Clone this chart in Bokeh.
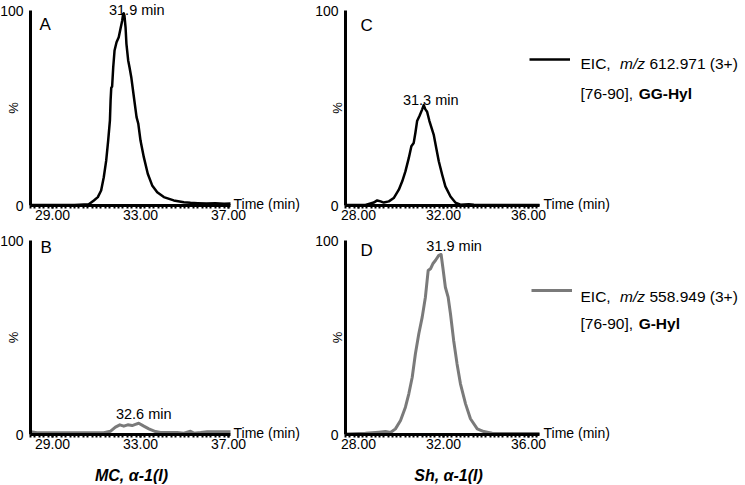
import math
import numpy as np
from bokeh.plotting import figure
from bokeh.models import (Range1d, FixedTicker, Label, Legend, LegendItem,
                          PrintfTickFormatter, LinearAxis)
from bokeh.embed import file_html
from bokeh.resources import INLINE

FONT = "Liberation Sans"

# ---------------- data ----------------
# Panel A : MC, EIC m/z 612.971 (GG-Hyl)
a_time = [28.0, 29.0, 30.0, 30.65, 30.88, 31.06, 31.21, 31.33, 31.44, 31.53, 31.61, 31.64,
          31.67, 31.71, 31.76, 31.82, 31.91, 32.01, 32.09, 32.17, 32.21, 32.24, 32.27, 32.32,
          32.36, 32.44, 32.50, 32.58, 32.70, 32.82, 32.90, 33.00, 33.15, 33.33, 33.53, 33.76,
          34.06, 34.51, 34.97, 35.27, 35.6, 36.0, 36.4, 36.8, 37.09]
a_int = [0.3, 0.3, 0.3, 0.6, 2.6, 4.3, 7.7, 14.5, 23.0, 33.3, 43.6, 53.8,
         60.3, 61.0, 70.9, 79.5, 83.7, 86.3, 90.6, 94.9, 98.3, 98.6, 97.4, 91.4,
         82.9, 74.4, 70.9, 65.8, 55.5, 45.3, 41.9, 33.3, 24.8, 16.3, 10.3, 6.8,
         4.3, 2.6, 1.7, 1.4, 1.2, 1.0, 1.2, 0.9, 1.0]
# Panel B : MC, EIC m/z 558.949 (G-Hyl)
b_time = [28.0, 28.3, 29.06, 30.0, 31.33, 31.64, 31.86, 32.06, 32.24, 32.42, 32.62, 32.77,
          32.92, 33.15, 33.38, 33.68, 33.91, 34.67, 34.97, 35.12, 35.27, 35.42, 35.73, 36.03,
          36.5, 37.09]
b_int = [1.4, 0.9, 0.9, 0.9, 0.9, 1.7, 3.8, 5.0, 4.3, 5.0, 4.6, 5.2,
         5.8, 4.3, 2.9, 1.5, 1.0, 1.0, 0.7, 1.2, 1.7, 0.7, 1.0, 1.4,
         1.4, 1.4]
# Panel C : Sh, EIC m/z 612.971 (GG-Hyl)
c_time = [27.39, 28.0, 28.33, 28.72, 28.88, 29.04, 29.19, 29.43, 29.66, 29.90, 30.06, 30.21,
          30.37, 30.49, 30.60, 30.68, 30.76, 30.87, 31.00, 31.07, 31.15, 31.23, 31.34, 31.44,
          31.54, 31.66, 31.78, 31.94, 32.09, 32.33, 32.56, 32.80, 33.19, 33.43, 34.0, 35.0,
          36.52]
c_int = [0.2, 0.2, 0.3, 1.5, 2.6, 2.1, 1.5, 2.1, 3.8, 8.1, 12.4, 17.5,
         24.4, 30.4, 32.1, 37.3, 43.3, 45.9, 49.3, 51.5, 49.3, 48.1, 43.3, 39.8,
         36.4, 29.5, 22.7, 15.8, 9.8, 4.6, 1.5, 0.4, 0.7, 0.4, 0.3, 0.3,
         0.3]
# Panel D : Sh, EIC m/z 558.949 (G-Hyl)
d_time = [27.39, 28.33, 28.96, 29.27, 29.51, 29.74, 29.98, 30.21, 30.37, 30.53, 30.68, 30.84,
          31.00, 31.15, 31.28, 31.39, 31.50, 31.62, 31.78, 31.89, 31.97, 32.09, 32.22, 32.33,
          32.48, 32.64, 32.80, 33.04, 33.27, 33.59, 33.90, 34.29, 35.0, 36.52]
d_int = [0.3, 0.7, 1.2, 1.5, 1.0, 2.9, 7.2, 14.1, 21.0, 29.5, 41.6, 51.9,
         60.5, 70.8, 84.5, 85.4, 88.0, 89.7, 92.3, 92.8, 86.2, 75.9, 70.8, 62.2,
         48.5, 36.4, 26.1, 15.8, 8.1, 2.9, 1.5, 0.7, 0.5, 0.5]

peak_labels = {"A": "31.9 min", "B": "32.6 min", "C": "31.3 min", "D": "31.9 min"}
ticks_left = [29, 33, 37]
ticks_right = [28, 32, 36]
y_ticks = [0, 100]
range_left = (28.0, 37.09)
range_right = (27.39, 36.52)
y_span = (0, 100)
sample_labels = ["MC, \u03b1-1(I)", "Sh, \u03b1-1(I)"]
legend_line1 = ["EIC,", "m/z", ["612.971 (3+)", "558.949 (3+)"]]
legend_line2_plain = "[76-90],"
legend_line2_bold = ["GG-Hyl", "G-Hyl"]

BLACK = "#000000"
GREY = "#7a7a7a"

# ---------------- canvas geometry (pixels) ----------------
W, H = 744, 484

p = figure(width=W, height=H, x_range=Range1d(0, W), y_range=Range1d(0, H),
           x_axis_location=None, y_axis_location=None, title=None,
           toolbar_location=None, output_backend="svg", min_border=0)
p.outline_line_color = None
p.grid.visible = False
p.background_fill_color = "white"
p.border_fill_color = "white"

# panel plot areas on the canvas: (left, right, top, bottom)
boxes = {
    "A": (30, 230, 10, 205),
    "C": (345, 539, 10, 205),
    "B": (30, 230, 240, 434),
    "D": (345, 539, 240, 434),
}
xr_of = {"A": range_left, "B": range_left, "C": range_right, "D": range_right}

ex, ey = {}, {}
for k, (L, R, T, B) in boxes.items():
    x0, x1 = xr_of[k]
    sx = (R - L) / (x1 - x0)
    ex[k] = Range1d(x0 - L / sx, x1 + (W - R) / sx)
    sy = (B - T) / (y_span[1] - y_span[0])
    ey[k] = Range1d(y_span[0] - (H - B) / sy, y_span[1] + T / sy)
p.extra_x_ranges = ex
p.extra_y_ranges = ey


def lbl(k, x, y, text, **kw):
    base = dict(text_font=FONT, text_color=BLACK, x_range_name=k, y_range_name=k)
    base.update(kw)
    p.add_layout(Label(x=x, y=y, text=text, **base))


def panel(k, t, v, color, lw, ticks, letter_dx, letter_dy, peak_dx, peak_dy, pct_dx, time_dx):
    xr = xr_of[k]
    r = p.line(t, v, line_color=color, line_width=lw, line_join="round",
               x_range_name=k, y_range_name=k)
    minor = [round(x, 2) for x in np.arange(math.ceil(xr[0] * 5) / 5, xr[1], 0.2)]
    xa = LinearAxis(x_range_name=k, y_range_name=k, fixed_location=y_span[0], bounds=xr)
    xa.ticker = FixedTicker(ticks=ticks, minor_ticks=minor)
    xa.formatter = PrintfTickFormatter(format="%.2f")
    xa.axis_line_width = 3
    xa.axis_line_color = BLACK
    xa.major_tick_in = 0
    xa.major_tick_out = 3
    xa.major_tick_line_width = 2
    xa.minor_tick_in = 0
    xa.minor_tick_out = 3
    xa.minor_tick_line_width = 2
    xa.major_label_standoff = 1
    xa.major_label_text_font = FONT
    xa.major_label_text_font_size = "14px"
    xa.major_label_text_color = BLACK
    p.add_layout(xa, "below")

    ya = LinearAxis(x_range_name=k, y_range_name=k, fixed_location=xr[0], bounds=y_span)
    ya.ticker = FixedTicker(ticks=y_ticks)
    ya.axis_line_width = 3
    ya.axis_line_color = BLACK
    ya.major_tick_line_color = None
    ya.minor_tick_line_color = None
    ya.major_label_standoff = 1
    ya.major_label_text_font = FONT
    ya.major_label_text_font_size = "14px"
    ya.major_label_text_color = BLACK
    p.add_layout(ya, "left")

    lbl(k, xr[1], 0, "Time (min)", x_offset=time_dx, y_offset=2, text_baseline="middle",
        text_align="left", text_font_size="14px")
    lbl(k, xr[0], 100, k, x_offset=letter_dx, y_offset=-letter_dy, text_baseline="top",
        text_align="left", text_font_size="17px")
    lbl(k, xr[0], 50, "%", x_offset=pct_dx, angle=math.pi / 2, text_baseline="middle",
        text_align="center", text_font_size="13px")
    i = int(np.argmax(v))
    lbl(k, t[i], v[i], peak_labels[k], x_offset=peak_dx, y_offset=peak_dy,
        text_baseline="alphabetic", text_align="center", text_font_size="14.5px")
    return r


rA = panel("A", a_time, a_int, BLACK, 2.5, ticks_left, 9, 4, 13, 3, -17, 3)
rB = panel("B", b_time, b_int, GREY, 3, ticks_left, 10, -3, 5, 9, -17, 3)
rC = panel("C", c_time, c_int, BLACK, 2.5, ticks_right, 15, 5, 7, 5, -8, 4)
rD = panel("D", d_time, d_int, GREY, 3, ticks_right, 15, 0, 13, 8, -8, 4)


def legend_block(k, r, idx, line_y, line_x, t1_up, t2_up):
    gh = 10
    leg = Legend(items=[LegendItem(label=" ", renderers=[r])],
                 location=(line_x, H - (line_y + gh / 2)),
                 glyph_width=41, glyph_height=gh, label_height=gh, label_width=1,
                 label_standoff=0, padding=0, margin=0, spacing=0,
                 border_line_color=None, background_fill_alpha=0,
                 label_text_font_size="6px")
    p.add_layout(leg, "center")
    fs, em, x0 = "15.5px", 15.5, 41
    xr = xr_of[k]
    common = dict(text_baseline="middle", text_align="left", text_font_size=fs)
    lbl(k, xr[1], 0, legend_line1[0], x_offset=x0, y_offset=t1_up, **common)
    lbl(k, xr[1], 0, legend_line1[1], x_offset=x0 + 2.55 * em, y_offset=t1_up,
        text_font_style="italic", **common)
    lbl(k, xr[1], 0, legend_line1[2][idx], x_offset=x0 + 4.45 * em, y_offset=t1_up, **common)
    lbl(k, xr[1], 0, legend_line2_plain, x_offset=x0, y_offset=t2_up, **common)
    lbl(k, xr[1], 0, legend_line2_bold[idx], x_offset=x0 + 3.75 * em, y_offset=t2_up,
        text_font_style="bold", **common)


legend_block("C", rA, 0, 59, 529, 142, 112)
legend_block("D", rB, 1, 290, 531, 138, 111)

for k, txt, dx in [("B", sample_labels[0], 1), ("D", sample_labels[1], 6)]:
    xr = xr_of[k]
    lbl(k, (xr[0] + xr[1]) / 2, 0, txt, x_offset=dx, y_offset=-41,
        text_baseline="middle", text_align="center", text_font_style="bold italic",
        text_font_size="16px")

open("out.html", "w").write(file_html(p, INLINE))
